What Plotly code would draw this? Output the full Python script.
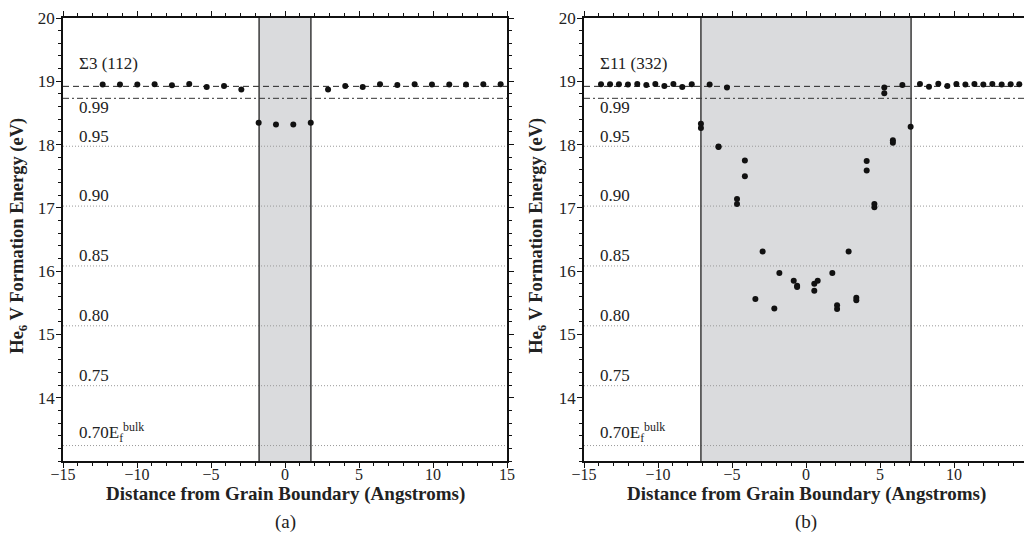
import plotly.graph_objects as go

# ---------------- data ----------------
E_bulk = 18.92
fractions = [0.99, 0.95, 0.90, 0.85, 0.80, 0.75, 0.70]
frac_labels = ["0.99", "0.95", "0.90", "0.85", "0.80", "0.75", "0.70E<sub>f</sub><sup>bulk</sup>"]
panel_titles = ["\u03a33 (112)", "\u03a311 (332)"]
panel_tags = ["(a)", "(b)"]
gb_halfwidth = [1.75, 7.1]

s3_x = [-12.32, -11.15, -9.98, -8.81, -7.64, -6.47, -5.29, -4.12, -2.95, -1.78, -0.61, 0.56,
        1.74, 2.91, 4.07, 5.25, 6.42, 7.59, 8.76, 9.93, 11.10, 12.23, 13.40, 14.57]
s3_y = [18.948, 18.948, 18.948, 18.953, 18.937, 18.958, 18.91, 18.927, 18.87, 18.343, 18.316, 18.316,
        18.343, 18.87, 18.927, 18.91, 18.953, 18.942, 18.953, 18.948, 18.948, 18.948, 18.953, 18.953]

s11_x = [-13.85, -13.24, -12.64, -12.03, -11.40, -10.79, -10.18, -9.57, -8.96, -8.36, -7.72,
         -7.10, -7.10, -6.51, -5.91, -5.91, -5.34, -4.66, -4.66, -4.13, -4.13, -3.42, -2.93,
         -2.14, -1.80, -0.83, -0.60, -0.60, 0.56, 0.56, 0.79, 1.78, 2.10, 2.10, 2.88, 3.40, 3.40,
         4.10, 4.10, 4.62, 4.62, 5.29, 5.29, 5.87, 5.87, 6.51, 7.07,
         7.70, 8.31, 8.94, 9.55, 10.16, 10.77, 11.38, 11.98, 12.59, 13.22, 13.83, 14.41]
s11_y = [18.953, 18.953, 18.953, 18.948, 18.958, 18.942, 18.958, 18.927, 18.958, 18.91, 18.953,
         18.33, 18.26, 18.948, 17.97, 17.96, 18.90, 17.14, 17.06, 17.75, 17.50, 15.56, 16.31,
         15.41, 15.97, 15.85, 15.77, 15.75, 15.80, 15.69, 15.85, 15.97, 15.46, 15.40, 16.31, 15.58, 15.54,
         17.74, 17.59, 17.06, 17.01, 18.90, 18.81, 18.07, 18.03, 18.94, 18.28,
         18.958, 18.915, 18.963, 18.927, 18.958, 18.948, 18.958, 18.948, 18.958, 18.948, 18.953, 18.953]

x_range = [-15, 15]
y_range = [13, 20]
y_ticks = [14, 15, 16, 17, 18, 19, 20]
x_ticks = [-15, -10, -5, 0, 5, 10, 15]

# ---------------- figure ----------------
OFF = 8  # page body margin
W, H = 1032 - OFF, 533 - OFF
ML, MR, MT = 63 - OFF, 4, 18 - OFF
MB = H - (461.5 - OFF)
PW = W - ML - MR
PH = H - MT - MB


def px_x(p):
    return (p - OFF - ML) / PW


def px_y(p):
    return (H - MB - (p - OFF)) / PH


xdoms = [[0, px_x(507)], [px_x(584), 1]]
ydom = [0, 1]

fig = go.Figure()
serif = "Liberation Serif, Times New Roman, serif"

for i, (xs, ys) in enumerate([(s3_x, s3_y), (s11_x, s11_y)]):
    xa = "x" if i == 0 else "x2"
    ya = "y" if i == 0 else "y2"
    fig.add_trace(go.Scatter(x=xs, y=ys, mode="markers", xaxis=xa, yaxis=ya,
                             marker=dict(size=6, color="#111111"), showlegend=False,
                             hoverinfo="skip"))
    xref = xa
    yref = ya
    hw = gb_halfwidth[i]
    # grain boundary region
    fig.add_shape(type="rect", xref=xref, yref=yref, x0=-hw, x1=hw, y0=y_range[0], y1=y_range[1],
                  fillcolor="#dadbdd", line=dict(width=0), layer="below")
    # reference lines
    fig.add_shape(type="line", xref=xref, yref=yref, x0=x_range[0], x1=x_range[1],
                  y0=E_bulk, y1=E_bulk, line=dict(color="#222222", width=1, dash="6px,4px"),
                  layer="below")
    for f, lab in zip(fractions, frac_labels):
        yv = f * E_bulk
        if f == 0.99:
            ln = dict(color="#333333", width=1, dash="6px,3px,2px,3px")
            ytxt = yv - 0.14
        else:
            ln = dict(color="#999999", width=1, dash="1px,2px")
            ytxt = yv + 0.16 if f != 0.70 else yv + 0.2
        fig.add_shape(type="line", xref=xref, yref=yref, x0=x_range[0], x1=x_range[1],
                      y0=yv, y1=yv, line=ln, layer="below")
        fig.add_annotation(x=-14.05, y=ytxt, xref=xref, yref=yref, text=lab, showarrow=False,
                           xanchor="left", yanchor="middle",
                           font=dict(family=serif, size=17, color="#222222"))
    for xv in (-hw, hw):
        fig.add_shape(type="line", xref=xref, yref=yref, x0=xv, x1=xv, y0=y_range[0], y1=y_range[1],
                      line=dict(color="#3a3a3a", width=1.5), layer="below")
    fig.add_annotation(x=-14.05, y=19.28, xref=xref, yref=yref, text=panel_titles[i],
                       showarrow=False, xanchor="left", yanchor="middle",
                       font=dict(family=serif, size=17, color="#222222"))
    # axis titles and panel tags
    xc = (xdoms[i][0] + xdoms[i][1]) / 2
    fig.add_annotation(x=xc, y=px_y(495), xref="paper", yref="paper",
                       text="<b>Distance from Grain Boundary (Angstroms)</b>", showarrow=False,
                       xanchor="center", yanchor="middle",
                       font=dict(family=serif, size=19, color="#222222"))
    fig.add_annotation(x=xc, y=px_y(523), xref="paper", yref="paper",
                       text=panel_tags[i], showarrow=False, xanchor="center", yanchor="middle",
                       font=dict(family=serif, size=19, color="#222222"))
    fig.add_annotation(x=px_x(19 if i == 0 else 538), y=px_y(236), xref="paper", yref="paper",
                       text="<b>He<sub>6</sub> V Formation Energy (eV)</b>", showarrow=False,
                       textangle=-90, xanchor="center", yanchor="middle",
                       font=dict(family=serif, size=18.5, color="#222222"))

axis_common = dict(showgrid=False, zeroline=False, showline=True, linecolor="#111111", linewidth=1.5,
                   mirror="allticks", ticks="outside", ticklen=5, tickwidth=1, tickcolor="#111111",
                   automargin=False)

xfont = dict(family=serif, size=16, color="#222222")
yfont = dict(family=serif, size=17, color="#222222")

fig.update_layout(
    width=W, height=H, margin=dict(l=ML, r=MR, t=MT, b=MB, autoexpand=False),
    paper_bgcolor="white", plot_bgcolor="white", showlegend=False,
    xaxis=dict(domain=xdoms[0], range=x_range, tickvals=x_ticks, anchor="y", ticklabelstandoff=-7,
               tickfont=xfont,
               minor=dict(dtick=1, ticklen=3, ticks="outside", tickcolor="#111111"), **axis_common),
    yaxis=dict(domain=ydom, range=y_range, tickvals=y_ticks, anchor="x", ticklabelstandoff=-2,
               tickfont=yfont,
               minor=dict(dtick=0.2, ticklen=3, ticks="outside", tickcolor="#111111"), **axis_common),
    xaxis2=dict(domain=xdoms[1], range=x_range, tickvals=x_ticks, anchor="y2", ticklabelstandoff=-7,
                tickfont=xfont,
                minor=dict(dtick=1, ticklen=3, ticks="outside", tickcolor="#111111"), **axis_common),
    yaxis2=dict(domain=ydom, range=y_range, tickvals=y_ticks, anchor="x2", ticklabelstandoff=-2,
                tickfont=yfont,
                minor=dict(dtick=0.2, ticklen=3, ticks="outside", tickcolor="#111111"), **axis_common),
)

fig.write_html("out.html")
